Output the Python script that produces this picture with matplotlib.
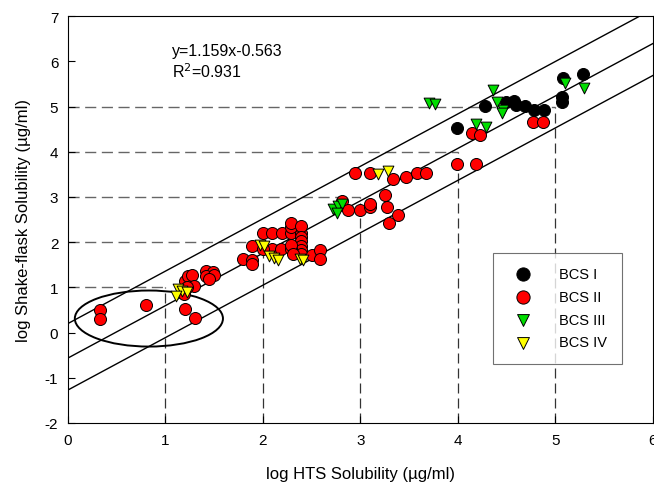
import numpy as np
import matplotlib.pyplot as plt
from matplotlib.patches import Ellipse

plt.rcParams['font.family'] = ['Liberation Sans', 'DejaVu Sans']
plt.rcParams['axes.unicode_minus'] = False

# BCS class data (log HTS, log shake-flask)
bcs1_x = [3.99, 4.28, 4.49, 4.58, 4.60, 4.69, 4.78, 4.88, 5.08, 5.07, 5.07, 5.28]
bcs1_y = [4.53, 5.02, 5.11, 5.13, 5.03, 5.02, 4.93, 4.93, 5.62, 5.20, 5.10, 5.73]

bcs2_x = [0.33, 0.33, 0.80, 1.20, 1.30, 1.19, 1.20, 1.23, 1.27, 1.29, 1.22,
          1.42, 1.49, 1.42, 1.50, 1.45,
          1.80, 1.89, 1.89, 1.89,
          2.00, 2.09, 2.20, 2.29, 2.39, 2.29, 2.29, 2.39, 2.39, 2.39, 2.39, 2.39, 2.39,
          2.09, 2.19, 2.29, 2.29, 2.00, 2.31, 2.50, 2.59, 2.59,
          2.94, 3.10, 3.34, 3.47, 3.58, 3.67, 2.81, 2.87, 3.00, 3.10, 3.10, 3.25, 3.27, 3.39, 3.29,
          3.99, 4.19, 4.15, 4.23, 4.77, 4.87]
bcs2_y = [0.50, 0.31, 0.61, 0.52, 0.32, 0.85, 1.14, 1.24, 1.27, 1.03, 1.00,
          1.37, 1.34, 1.25, 1.27, 1.18,
          1.62, 1.61, 1.52, 1.92,
          2.21, 2.21, 2.21, 2.21, 2.21, 2.33, 2.43, 2.35, 2.11, 2.02, 1.92, 1.83, 1.73,
          1.85, 1.85, 1.85, 1.94, 1.84, 1.74, 1.72, 1.82, 1.63,
          3.53, 3.53, 3.40, 3.44, 3.52, 3.52, 2.91, 2.72, 2.72, 2.78, 2.85, 3.05, 2.77, 2.61, 2.43,
          3.72, 3.72, 4.41, 4.36, 4.66, 4.66]

bcs3_x = [2.72, 2.77, 2.81, 2.76, 3.70, 3.77, 4.36, 4.40, 4.46, 4.45, 4.19, 4.29, 5.10, 5.30]
bcs3_y = [2.74, 2.80, 2.85, 2.65, 5.08, 5.06, 5.36, 5.10, 4.93, 4.86, 4.61, 4.55, 5.52, 5.42]

bcs4_x = [1.13, 1.17, 1.22, 1.11, 1.97, 2.01, 2.06, 2.11, 2.16, 2.38, 2.41, 3.18, 3.28]
bcs4_y = [0.96, 0.93, 0.90, 0.81, 1.94, 1.91, 1.70, 1.65, 1.60, 1.63, 1.61, 3.50, 3.58]

slope = 1.159
intercepts = [0.20, -0.563, -1.27]
steps = [1, 2, 3, 4, 5]

fig = plt.figure(figsize=(6.54, 4.89), dpi=100)
ax = fig.add_axes([0.104, 0.133, 0.894, 0.832])

# stepped dashed guides
for k in steps:
    ax.plot([0, k], [k, k], color='0.4', lw=1, dashes=(8, 4), zorder=1)
    ax.plot([k, k], [-2, k], color='0.2', lw=0.9, dashes=(8, 4), zorder=1)

xx = np.array([0, 6])
for b in intercepts:
    ax.plot(xx, slope * xx + b, color='black', lw=1, zorder=2)

ax.add_patch(Ellipse((0.83, 0.31), 1.52, 1.24, fill=False, edgecolor='black', lw=1.4, zorder=2))

ax.scatter(bcs2_x, bcs2_y, s=75, c='red', edgecolors='black', linewidths=0.7, label='BCS II', zorder=3)
ax.scatter(bcs4_x, bcs4_y, s=60, c='yellow', marker='v', edgecolors='black', linewidths=0.7, label='BCS IV', zorder=4)
ax.scatter(bcs3_x, bcs3_y, s=60, c='#00dd00', marker='v', edgecolors='black', linewidths=0.7, label='BCS III', zorder=4)
ax.scatter(bcs1_x, bcs1_y, s=75, c='black', edgecolors='black', linewidths=0.7, label='BCS I', zorder=3)

ax.text(1.07, 6.23, 'y=1.159x-0.563', fontsize=11.5, va='center')
ax.text(1.07, 5.79, 'R$^2$=0.931', fontsize=11.5, va='center')

ax.set_xlim(0, 6)
ax.set_ylim(-2, 7)
ax.set_xticks(range(0, 7))
ax.set_yticks(range(-2, 8))
ax.tick_params(direction='in', length=5, labelsize=11, pad=7, top=False, right=False)
ax.set_xlabel('log HTS Solubility (\u00b5g/ml)', fontsize=12, labelpad=14)
ax.set_ylabel('log Shake-flask Solubility (\u00b5g/ml)', fontsize=12, labelpad=10)

h, l = ax.get_legend_handles_labels()
order = [l.index(n) for n in ['BCS I', 'BCS II', 'BCS III', 'BCS IV']]
leg = ax.legend([h[i] for i in order], [l[i] for i in order], loc='lower right',
                bbox_to_anchor=(0.947, 0.145), fontsize=10.5, frameon=True, fancybox=False,
                borderpad=1.0, labelspacing=0.6, handletextpad=1.5, borderaxespad=0,
                markerscale=1.1)
leg.get_frame().set_edgecolor('0.3')
leg.get_frame().set_linewidth(0.8)

plt.savefig('out.png', dpi=100)
